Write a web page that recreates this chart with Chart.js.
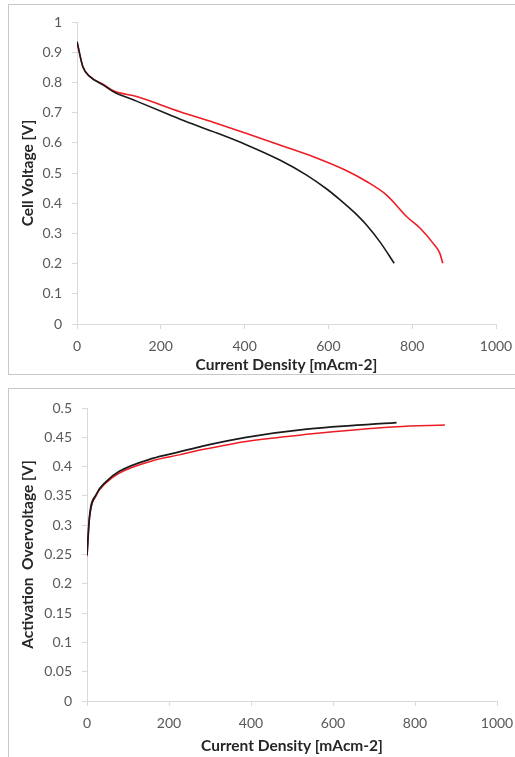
<!doctype html>
<html lang="en">
  <head>
    <meta charset="utf-8">
    <title>Cell voltage and activation overvoltage</title>
    <style>
      * { margin: 0; padding: 0; }
      body { width: 515px; height: 757px; background: #fff; position: relative; overflow: hidden; }
      .frame {
        position: absolute;
        left: 8px;
        width: 520px;
        border: 1px solid #c8c8c8;
        background: #fff;
      }
      #topFrame { top: 4px; height: 369px; }
      #bottomFrame { top: 388px; height: 375px; }
      .box { position: absolute; left: 0; top: 0; width: 506px; }
    </style>
  </head>
  <body>
    <div class="frame" id="topFrame"><div class="box" style="height:369px"><canvas id="voltageChart"></canvas></div></div>
    <div class="frame" id="bottomFrame"><div class="box" style="height:368px"><canvas id="actChart"></canvas></div></div>
    <script src="https://cdn.jsdelivr.net/npm/chart.js/dist/chart.umd.min.js"></script>
    <script>
    // polarisation curves (current density mA/cm2, volts)
    const blackCurrent = [0, 14, 31, 63, 87, 142, 222, 246, 325, 405, 484, 548, 596, 628, 660, 691, 723, 757];
    const blackVoltage = [0.935, 0.852, 0.819, 0.791, 0.769, 0.738, 0.692, 0.678, 0.637, 0.593, 0.543, 0.493, 0.447, 0.411, 0.372, 0.328, 0.272, 0.201];
    const redCurrent = [0, 14, 31, 63, 87, 142, 246, 325, 405, 484, 564, 640, 691, 739, 787, 819, 850, 866, 873];
    const redVoltage = [0.935, 0.852, 0.819, 0.793, 0.772, 0.753, 0.703, 0.668, 0.631, 0.593, 0.554, 0.510, 0.472, 0.427, 0.355, 0.317, 0.267, 0.234, 0.201];

    // activation overvoltage
    const blackActCurrent = [0, 6, 22, 46, 79, 160, 225, 282, 388, 536, 755];
    const blackAct = [0.249, 0.314, 0.352, 0.374, 0.392, 0.414, 0.425, 0.435, 0.450, 0.464, 0.475];
    const redActCurrent = [0, 6, 22, 46, 79, 160, 225, 282, 388, 536, 755, 873];
    const redAct = [0.247, 0.312, 0.350, 0.372, 0.389, 0.410, 0.420, 0.429, 0.443, 0.455, 0.468, 0.471];

    const xTitle = 'Current Density [mAcm-2]';

    const toPoints = (xs, ys) => xs.map((x, i) => ({x: x, y: ys[i]}));

    const axisGray = '#d9d9d9';
    const tickFont = {family: 'Lato', size: 14};
    const titleFont = {family: 'Lato', size: 15.5, weight: 'bold'};

    function makeConfig(series, yMax, yStep, yTitle, yWidth, xHeight, pad) {
      return {
        type: 'scatter',
        data: {
          datasets: series.map(s => ({
            data: s.data,
            showLine: true,
            borderColor: s.color,
            backgroundColor: s.color,
            borderWidth: s.width,
            pointRadius: 0,
            cubicInterpolationMode: 'monotone'
          }))
        },
        options: {
          responsive: true,
          maintainAspectRatio: false,
          animation: false,
          layout: {padding: pad},
          plugins: {legend: {display: false}, tooltip: {enabled: false}},
          scales: {
            x: {
              type: 'linear',
              min: 0, max: 1000,
              ticks: {stepSize: 200, color: '#595959', font: tickFont, padding: 9, maxRotation: 0,
                callback: v => String(v)},
              grid: {drawOnChartArea: false, color: axisGray, tickLength: 5},
              border: {color: axisGray},
              title: {display: true, text: xTitle, color: '#262626', font: titleFont, padding: 0},
              afterFit: scale => {
                scale.height = xHeight;
                scale.paddingLeft = 0;
                scale.paddingRight = 0;
              }
            },
            y: {
              type: 'linear',
              min: 0, max: yMax,
              ticks: {stepSize: yStep, color: '#595959', font: tickFont, padding: 10,
                callback: v => String(+v.toFixed(2))},
              grid: {drawOnChartArea: false, color: axisGray, tickLength: 5},
              border: {color: axisGray},
              title: {display: true, text: yTitle, color: '#262626', font: titleFont, padding: 0},
              afterFit: scale => {
                scale.width = yWidth;
                scale.paddingTop = 0;
                scale.paddingBottom = 0;
              }
            }
          }
        }
      };
    }

    new Chart(document.getElementById('voltageChart'), makeConfig([
      {data: toPoints(blackCurrent, blackVoltage), color: '#1a1a1a', width: 1.6},
      {data: toPoints(redCurrent, redVoltage), color: '#ee1c25', width: 1.6}
    ], 1, 0.1, 'Cell Voltage [V]', 58, 50, {left: 10, top: 17, right: 19, bottom: 0}));

    new Chart(document.getElementById('actChart'), makeConfig([
      {data: toPoints(blackActCurrent, blackAct), color: '#1a1a1a', width: 1.8},
      {data: toPoints(redActCurrent, redAct), color: '#ee1c25', width: 1.5}
    ], 0.5, 0.05, 'Activation  Overvoltage [V]', 68, 54, {left: 10, top: 19, right: 18, bottom: 2}));
    </script>
  </body>
</html>
